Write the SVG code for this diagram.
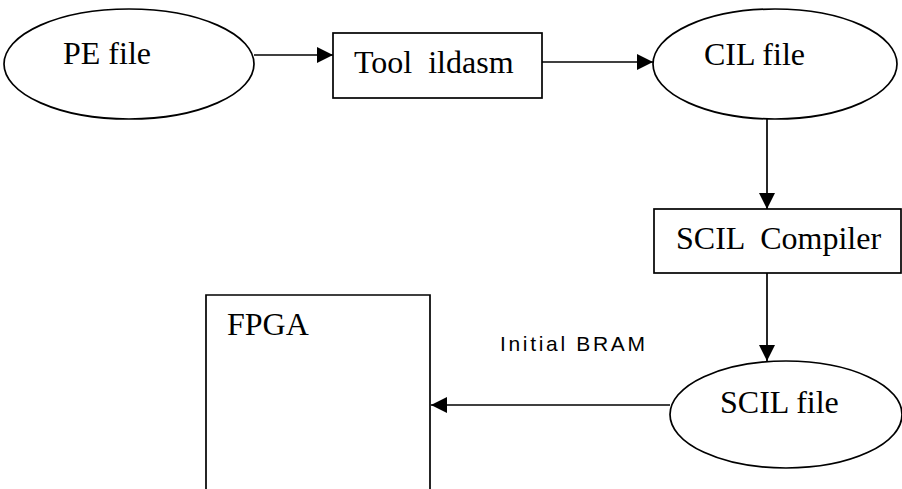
<svg xmlns="http://www.w3.org/2000/svg" width="902" height="489" viewBox="0 0 902 489">
  <defs>
    <marker id="arrow" markerUnits="userSpaceOnUse" markerWidth="16" markerHeight="16" viewBox="0 0 16 16" refX="16" refY="8" orient="auto">
      <path d="M0,0 L16,8 L0,16 Z" fill="#000"/>
    </marker>
    <style>
      .shape { fill: #fff; stroke: #000; stroke-width: 1.7; }
      .label { font-family: "Liberation Serif", "Times New Roman", serif; font-size: 32px; fill: #000; }
      .edge { stroke: #000; stroke-width: 1.7; fill: none; marker-end: url(#arrow); }
      .edge-label { font-family: "Liberation Sans", Arial, sans-serif; font-size: 21px; fill: #000; }
    </style>
  </defs>
  <rect width="902" height="489" fill="#fff"/>

  <g id="connectors">
    <line class="edge" x1="254" y1="55" x2="333" y2="55"/>
    <line class="edge" x1="542" y1="62" x2="653" y2="62"/>
    <line class="edge" x1="767" y1="119" x2="767" y2="209"/>
    <line class="edge" x1="767" y1="273" x2="767" y2="361"/>
    <line class="edge" x1="670" y1="405" x2="431" y2="405"/>
    <text class="edge-label" x="500" y="351" textLength="145" lengthAdjust="spacing">Initial BRAM</text>
  </g>

  <g id="pe-file">
    <ellipse class="shape" cx="129" cy="64" rx="125" ry="55"/>
    <text class="label" x="63" y="64">PE file</text>
  </g>

  <g id="tool-ildasm">
    <rect class="shape" x="333" y="33" width="209" height="65"/>
    <text class="label" x="354" y="73" xml:space="preserve">Tool  ildasm</text>
  </g>

  <g id="cil-file">
    <ellipse class="shape" cx="775" cy="64" rx="122" ry="55"/>
    <text class="label" x="704" y="65">CIL file</text>
  </g>

  <g id="scil-compiler">
    <rect class="shape" x="654" y="209" width="247" height="64"/>
    <text class="label" x="676" y="249" xml:space="preserve">SCIL  Compiler</text>
  </g>

  <g id="scil-file">
    <ellipse class="shape" cx="786" cy="414.5" rx="116" ry="53.5"/>
    <text class="label" x="720" y="413">SCIL file</text>
  </g>

  <g id="fpga">
    <path class="shape" d="M206,495 V295 H430 V495"/>
    <text class="label" x="227" y="335">FPGA</text>
  </g>
</svg>
